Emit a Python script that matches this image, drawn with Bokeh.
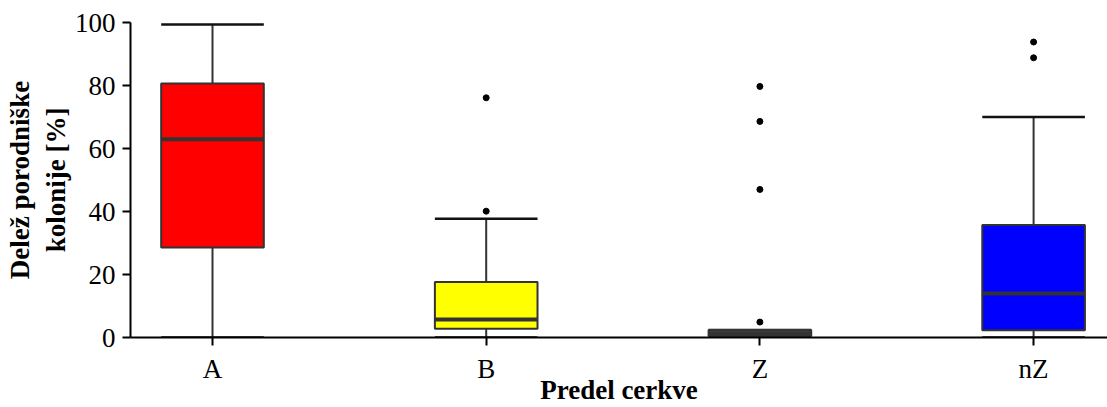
from bokeh.plotting import figure
from bokeh.models import Range1d, FixedTicker, ColumnDataSource
from bokeh.embed import file_html
from bokeh.resources import INLINE

# ---- data ----
categories = ["A", "B", "Z", "nZ"]
lower = [0.0, 0.0, 0.0, 0.0]
q1 = [28.6, 2.8, 0.5, 2.3]
median = [62.9, 5.7, 1.3, 14.0]
q3 = [80.6, 17.6, 2.4, 35.7]
upper = [99.4, 37.7, 2.4, 70.0]
box_colors = ["#FF0000", "#FFFF00", "#444444", "#0000FF"]
outlier_cat = ["B", "B", "Z", "Z", "Z", "Z", "nZ", "nZ"]
outlier_val = [76.1, 40.1, 79.7, 68.6, 47.0, 4.9, 93.8, 88.8]
y_ticks = [0, 20, 40, 60, 80, 100]

FONT = "Liberation Serif"
BOX_W = 0.375

pos = {c: i + 1 for i, c in enumerate(categories)}
xs = [pos[c] for c in categories]

src = ColumnDataSource(dict(
    x=xs, lower=lower, q1=q1, median=median, q3=q3, upper=upper, color=box_colors,
    x0=[x - BOX_W / 2 for x in xs], x1=[x + BOX_W / 2 for x in xs],
))
osrc = ColumnDataSource(dict(x=[pos[c] for c in outlier_cat], y=outlier_val))

p = figure(width=1107, height=407, output_backend="svg", toolbar_location=None,
           x_range=Range1d(0.7004, 4.270), y_range=Range1d(0, 100),
           min_border_left=130, min_border_right=0, min_border_top=22, min_border_bottom=10)

p.outline_line_color = None
p.xgrid.visible = False
p.ygrid.visible = False
p.background_fill_color = "white"
p.border_fill_color = "white"

# whiskers
p.segment(x0="x", y0="q3", x1="x", y1="upper", source=src, line_color="#333333", line_width=2)
p.segment(x0="x", y0="lower", x1="x", y1="q1", source=src, line_color="#333333", line_width=2)
p.segment(x0="x0", y0="upper", x1="x1", y1="upper", source=src, line_color="#111111", line_width=2.5)
p.segment(x0="x0", y0="lower", x1="x1", y1="lower", source=src, line_color="#111111", line_width=2.5)
# boxes
p.vbar(x="x", width=BOX_W, bottom="q1", top="q3", source=src, fill_color="color",
       line_color="#333333", line_width=2)
# medians
p.segment(x0="x0", y0="median", x1="x1", y1="median", source=src, line_color="#333333", line_width=4)
# outliers
p.scatter(x="x", y="y", source=osrc, size=6, color="black")

# axes
for ax in (p.xaxis[0], p.yaxis[0]):
    ax.axis_line_color = "black"
    ax.axis_line_width = 2
    ax.major_tick_line_color = "black"
    ax.major_tick_line_width = 2
    ax.major_tick_out = 8
    ax.major_tick_in = 0
    ax.minor_tick_line_color = None
    ax.major_label_text_font = FONT
    ax.major_label_text_font_size = "27px"
    ax.major_label_text_color = "black"
    ax.axis_label_text_font = FONT
    ax.axis_label_text_font_size = "27px"
    ax.axis_label_text_font_style = "bold"
    ax.axis_label_text_color = "black"

p.xaxis.ticker = FixedTicker(ticks=xs)
p.xaxis.major_label_overrides = {x: c for x, c in zip(xs, categories)}
p.xaxis.axis_label = "Predel cerkve"
p.xaxis.major_label_standoff = 8
p.xaxis.axis_label_standoff = -12

p.yaxis.ticker = FixedTicker(ticks=y_ticks)
p.yaxis.axis_label = "Delež porodniške\nkolonije [%]"
p.yaxis.major_label_standoff = 7
p.yaxis.axis_label_standoff = 1

open("out.html", "w").write(file_html(p, INLINE))
